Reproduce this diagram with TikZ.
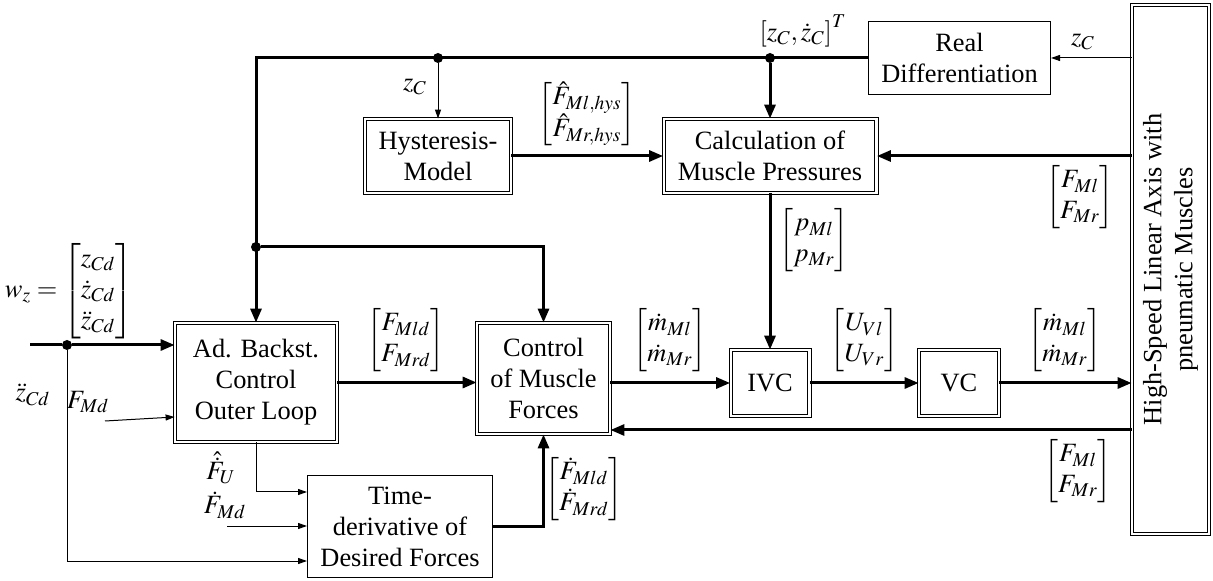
\documentclass[tikz,border=0pt]{standalone}
\usepackage{amsmath}
\usepackage{mathptmx}
\usepackage{fontspec}
\setmainfont{Liberation Serif}
\usepackage{tikz}
\usetikzlibrary{arrows.meta,positioning}

\begin{document}
\begin{tikzpicture}[x=0.5pt,y=-0.5pt,
  every node/.style={font=\fontsize{13.2}{15.5}\selectfont,inner sep=1pt},
  blk/.style={draw,line width=0.5pt,align=center,inner sep=0pt},
  dblk/.style={blk,double,double distance=1.1pt},
  sig/.style={line width=1.5pt,-{Triangle[length=7pt,width=5.5pt]}},
  meas/.style={line width=0.5pt,-{Triangle[length=4.5pt,width=3pt]}},
  jdot/.style={circle,fill,inner sep=0pt,minimum size=5pt}]
\useasboundingbox (0,0) rectangle (1213,581);

% blocks
\node[dblk,minimum width=80.9pt,minimum height=59.4pt] (adbs) at (256,382.5) {Ad. Backst.\\Control\\Outer Loop};
\node[dblk,minimum width=66.4pt,minimum height=55.4pt] (ctrl) at (543.5,378.5) {Control\\of Muscle\\Forces};
\node[blk,minimum width=92.5pt,minimum height=51pt] (tder) at (400,526.5) {Time-\\derivative of\\Desired Forces};
\node[dblk,minimum width=72.9pt,minimum height=36.9pt] (hyst) at (438,156) {Hysteresis-\\Model};
\node[dblk,minimum width=106.4pt,minimum height=36.9pt] (calc) at (770,156) {Calculation of\\Muscle Pressures};
\node[blk,minimum width=91pt,minimum height=36.5pt] (real) at (959.5,58) {Real\\Differentiation};
\node[dblk,minimum width=39.4pt,minimum height=32.9pt] (ivc) at (770,383) {IVC};
\node[dblk,minimum width=39.9pt,minimum height=32.9pt] (vc) at (959,383) {VC};
\node[dblk,rotate=90,minimum width=264.4pt,minimum height=38.4pt] (plant) at (1170.5,269.5) {High-Speed Linear Axis with\\pneumatic Muscles};

% branch points and free ends
\node[jdot] (j1) at (67,345) {};
\node[jdot] (j2) at (438,58) {};
\node[jdot] (j3) at (770,58) {};
\node[jdot] (j4) at (256,247) {};
\coordinate (win) at (30,345);
\coordinate (fmd) at (105,421);
\coordinate (fdmd) at (227,526);

% signals
\draw[sig] (win) -- (j1) -- (adbs.west |- j1);
\draw[meas] (j1) |- (tder.west |- 0,561);
\draw[meas] (fmd) -- (adbs.west |- 0,417);
\draw[meas] (adbs.south) |- (tder.west |- 0,492);
\draw[meas] (fdmd) -- (tder.west |- fdmd);
\draw[sig] (adbs.east) -- (ctrl.west |- adbs.east);
\draw[sig] (tder.east) -| (ctrl.south);
\draw[sig] (ctrl.east |- ivc) -- (ivc.west);
\draw[sig] (ivc) -- (vc);
\draw[sig] (vc) -- (plant.north |- vc);
\draw[sig] (plant.north |- 0,430) -- (ctrl.east |- 0,430);
\draw[sig] (plant.north |- calc) -- (calc.east);
\draw[meas] (plant.north |- real) -- (real.east);
\draw[sig] (real.west) -| (adbs.north);
\draw[sig] (j3) -- (calc.north);
\draw[meas] (j2) -- (hyst.north);
\draw[sig] (hyst) -- (calc);
\draw[sig] (calc) -- (ivc);
\draw[sig] (j4) -| (ctrl.north);

% labels
\node (lwz) at (69,291) {$w_z = \begin{bmatrix}z_{Cd}\\ \dot z_{Cd}\\ \ddot z_{Cd}\end{bmatrix}$};
\node (lzdd) at (33,395) {$\ddot z_{Cd}$};
\node (lfmd) at (88,402) {$F_{Md}$};
\node (lfu) at (221,468) {$\hat{\dot F}_U$};
\node (lfdmd) at (225,505) {$\dot F_{Md}$};
\node (lfd) at (406,340) {$\begin{bmatrix}F_{Mld}\\ F_{Mrd}\end{bmatrix}$};
\node (lfdd) at (584,489) {$\begin{bmatrix}\dot F_{Mld}\\ \dot F_{Mrd}\end{bmatrix}$};
\node (lzc1) at (415,87) {$z_C$};
\node (lhys) at (587,114) {$\begin{bmatrix}\hat F_{Ml,hys}\\ \hat F_{Mr,hys}\end{bmatrix}$};
\node (lzc2) at (803,31) {$\left[z_C,\dot z_C\right]^T$};
\node (lzc3) at (1083,42) {$z_C$};
\node (lfm1) at (1080,197) {$\begin{bmatrix}F_{Ml}\\ F_{Mr}\end{bmatrix}$};
\node (lp) at (814,240) {$\begin{bmatrix}p_{Ml}\\ p_{Mr}\end{bmatrix}$};
\node (lmd1) at (670,340) {$\begin{bmatrix}\dot m_{Ml}\\ \dot m_{Mr}\end{bmatrix}$};
\node (lu) at (864.5,340) {$\begin{bmatrix}U_{Vl}\\ U_{Vr}\end{bmatrix}$};
\node (lmd2) at (1065,340) {$\begin{bmatrix}\dot m_{Ml}\\ \dot m_{Mr}\end{bmatrix}$};
\node (lfm2) at (1078,471) {$\begin{bmatrix}F_{Ml}\\ F_{Mr}\end{bmatrix}$};
\end{tikzpicture}
\end{document}
